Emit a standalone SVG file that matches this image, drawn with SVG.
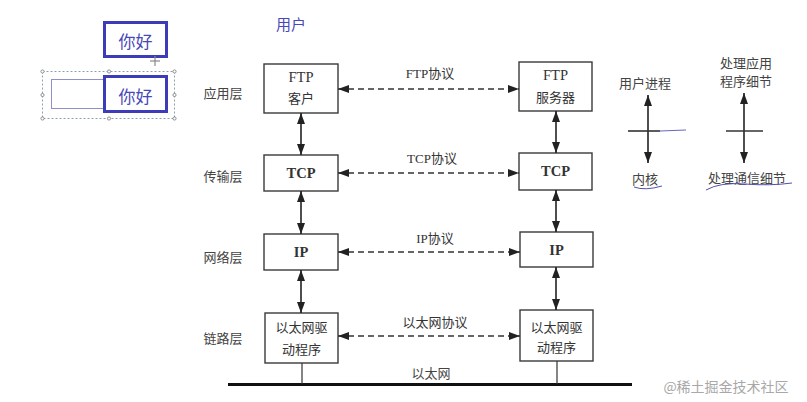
<svg xmlns="http://www.w3.org/2000/svg" width="807" height="402" viewBox="0 0 807 402">
<style>
.box{fill:#fff;stroke:#3a3a3a;stroke-width:1.4}
.t{font-family:"Liberation Serif","Noto Sans CJK SC",serif;font-size:13px;fill:#333;text-anchor:middle;dominant-baseline:central}
.e{font-size:14.5px}
.tb{font-weight:bold}
.lab{font-family:"Noto Sans CJK SC",sans-serif;font-size:13px;fill:#444;text-anchor:middle;dominant-baseline:central}
.v{stroke:#222;stroke-width:1.6;fill:none;marker-start:url(#ah);marker-end:url(#ah)}
.d{stroke:#333;stroke-width:1.4;fill:none;stroke-dasharray:6 4;marker-start:url(#ah);marker-end:url(#ah)}
.blue{font-family:"Noto Sans CJK SC",sans-serif;fill:#4848b8;text-anchor:middle;dominant-baseline:central}
</style>
<defs>
<marker id="ah" viewBox="0 0 11 8" refX="11" refY="4" markerWidth="11" markerHeight="8" markerUnits="userSpaceOnUse" orient="auto-start-reverse">
<path d="M0,0 L11,4 L0,8 Z" fill="#222"/>
</marker>
</defs>
<rect width="807" height="402" fill="#fff"/>

<g id="editor-demo">
<rect x="104.5" y="22.5" width="62" height="34" fill="#fff" stroke="#3c3cb8" stroke-width="3"/>
<text class="blue" x="135.5" y="40" font-size="17">你好</text>
<g stroke="#888" stroke-width="1.2"><line x1="150" y1="61" x2="160" y2="61"/><line x1="155" y1="56" x2="155" y2="66"/></g>
<rect x="42.5" y="71.5" width="132" height="47" fill="none" stroke="#6a8a9a" stroke-width="0.8" stroke-dasharray="2 2"/>
<g fill="#fff" stroke="#777" stroke-width="0.8">
<circle cx="42.5" cy="71.5" r="1.6"/><circle cx="109" cy="71.5" r="1.6"/><circle cx="174.5" cy="71.5" r="1.6"/>
<circle cx="42.5" cy="95" r="1.6"/><circle cx="174.5" cy="95" r="1.6"/>
<circle cx="42.5" cy="118.5" r="1.6"/><circle cx="109" cy="118.5" r="1.6"/><circle cx="174.5" cy="118.5" r="1.6"/>
</g>
<rect x="51.5" y="79.5" width="53" height="29" fill="#fff" stroke="#9090c8" stroke-width="1"/>
<rect x="104.5" y="76.5" width="62" height="35" fill="#fff" stroke="#3c3cb8" stroke-width="3"/>
<text class="blue" x="135.5" y="95" font-size="17">你好</text>
</g>

<text class="blue" x="291" y="23" font-size="15">用户</text>

<g id="layer-labels">
<text class="lab" x="223" y="92">应用层</text>
<text class="lab" x="223" y="175">传输层</text>
<text class="lab" x="223" y="256">网络层</text>
<text class="lab" x="223" y="337">链路层</text>
</g>

<g id="ftp-client"><rect class="box" x="264" y="64" width="74" height="49"/>
<text class="t e" x="301" y="77">FTP</text><text class="t" x="301" y="98">客户</text></g>
<g id="tcp-left"><rect class="box" x="264" y="155" width="74" height="36"/>
<text class="t e tb" x="301" y="173">TCP</text></g>
<g id="ip-left"><rect class="box" x="264" y="234" width="74" height="36"/>
<text class="t e tb" x="301" y="252">IP</text></g>
<g id="eth-left"><rect class="box" x="265" y="313" width="73" height="50"/>
<text class="t" x="301.5" y="327">以太网驱</text><text class="t" x="301.5" y="349">动程序</text></g>

<g id="ftp-server"><rect class="box" x="519" y="62" width="73" height="49"/>
<text class="t e" x="555.5" y="75">FTP</text><text class="t" x="555.5" y="97">服务器</text></g>
<g id="tcp-right"><rect class="box" x="519" y="153" width="73" height="37"/>
<text class="t e tb" x="555.5" y="171">TCP</text></g>
<g id="ip-right"><rect class="box" x="520" y="232" width="73" height="35"/>
<text class="t e tb" x="556.5" y="250">IP</text></g>
<g id="eth-right"><rect class="box" x="520" y="310" width="73" height="51"/>
<text class="t" x="556.5" y="327">以太网驱</text><text class="t" x="556.5" y="347">动程序</text></g>

<g id="ethernet">
<line x1="228" y1="384.5" x2="632" y2="384.5" stroke="#111" stroke-width="3"/>
<text class="lab" x="431" y="372">以太网</text>
</g>

<g id="connectors">
<line class="v" x1="301" y1="113" x2="301" y2="155"/>
<line class="v" x1="301" y1="191" x2="301" y2="234"/>
<line class="v" x1="301" y1="270" x2="301" y2="313"/>
<line class="v" x1="556" y1="111" x2="556" y2="153"/>
<line class="v" x1="556" y1="190" x2="556" y2="232"/>
<line class="v" x1="556" y1="267" x2="556" y2="310"/>
<line class="d" x1="338" y1="89" x2="519" y2="89"/>
<line class="d" x1="338" y1="173" x2="519" y2="173"/>
<line class="d" x1="338" y1="252" x2="520" y2="252"/>
<line class="d" x1="338" y1="336" x2="520" y2="336"/>
<line x1="302" y1="363" x2="302" y2="384" stroke="#333" stroke-width="1.2"/>
<line x1="557" y1="361" x2="557" y2="384" stroke="#333" stroke-width="1.2"/>
<text class="t" x="430" y="73">FTP协议</text>
<text class="t" x="432" y="158">TCP协议</text>
<text class="t" x="435" y="238">IP协议</text>
<text class="t" x="435" y="322">以太网协议</text>
</g>

<g id="legend-user">
<text class="lab" x="645" y="82">用户进程</text>
<line class="v" x1="648" y1="95" x2="648" y2="163"/>
<line x1="628" y1="131" x2="660" y2="131" stroke="#333" stroke-width="1.6"/>
<line x1="660" y1="131" x2="686" y2="130" stroke="#6666c0" stroke-width="1.2"/>
<text class="lab" x="645" y="178">内核</text>
<path d="M634,187 Q645,191 662,186" fill="none" stroke="#5050b0" stroke-width="1"/>
</g>
<g id="legend-proc">
<text class="lab" x="746" y="62">处理应用</text>
<text class="lab" x="746" y="80">程序细节</text>
<line class="v" x1="744" y1="93" x2="744" y2="163"/>
<line x1="726" y1="131" x2="763" y2="131" stroke="#333" stroke-width="1.6"/>
<text class="lab" x="747" y="177">处理通信细节</text>
<path d="M706,190 Q720,182 745,184 Q770,186 792,183" fill="none" stroke="#5050b0" stroke-width="1"/>
</g>

<text x="726" y="386" font-family="'Noto Sans CJK SC',sans-serif" font-size="14" fill="#a8a8a8" text-anchor="middle" dominant-baseline="central">@稀土掘金技术社区</text>
</svg>
